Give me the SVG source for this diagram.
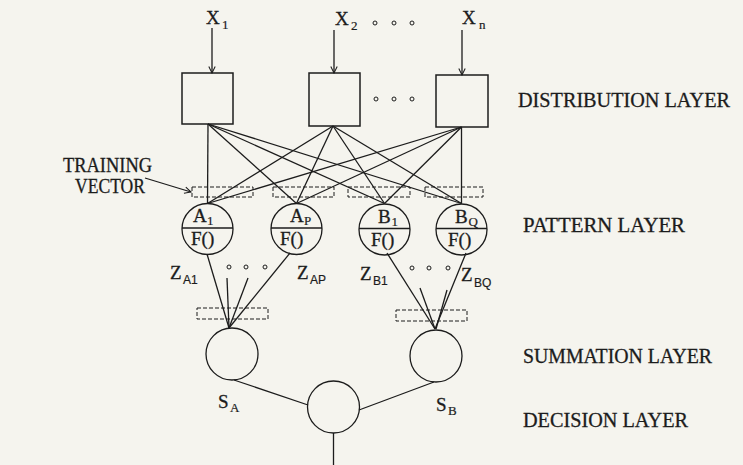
<svg xmlns="http://www.w3.org/2000/svg" width="743" height="465" viewBox="0 0 743 465">
<defs>
<style>
.bg{fill:#f5f4ee}
.ln{stroke:#1c1c1c;stroke-width:1.3;fill:none}
.box{stroke:#1c1c1c;stroke-width:1.5;fill:none}
.dash{stroke:#1c1c1c;stroke-width:1;fill:none;stroke-dasharray:4 2}
.dot{stroke:#1c1c1c;stroke-width:1;fill:none}
.t{font-family:"Liberation Serif","DejaVu Serif",serif;font-size:19px;fill:#1c1c1c;stroke:#1c1c1c;stroke-width:0.3}
.big{font-family:"Liberation Serif","DejaVu Serif",serif;font-size:20px;fill:#1c1c1c;stroke:#1c1c1c;stroke-width:0.3}
.sub{font-family:"Liberation Serif","DejaVu Serif",serif;font-size:13px;fill:#1c1c1c;stroke:#1c1c1c;stroke-width:0.2}
.subs{font-family:"Liberation Sans","DejaVu Sans",sans-serif;font-size:12px;fill:#1c1c1c;stroke:#1c1c1c;stroke-width:0.2}
</style>
<marker id="arr" viewBox="0 0 10 10" refX="9" refY="5" markerWidth="8" markerHeight="8" orient="auto" markerUnits="userSpaceOnUse">
<path d="M1,1 L9,5 L1,9" fill="none" stroke="#1c1c1c" stroke-width="1.3"/>
</marker>
</defs>
<rect class="bg" x="0" y="0" width="743" height="465"/>

<g id="connectors">
<!-- inputs -->
<line class="ln" x1="212" y1="28" x2="212" y2="73" marker-end="url(#arr)"/>
<line class="ln" x1="334" y1="30" x2="334" y2="73" marker-end="url(#arr)"/>
<line class="ln" x1="462" y1="30" x2="462" y2="75" marker-end="url(#arr)"/>
<!-- distribution to pattern -->
<line class="ln" x1="208" y1="124" x2="207.5" y2="203.5"/>
<line class="ln" x1="208" y1="124" x2="296.5" y2="203.5"/>
<line class="ln" x1="208" y1="124" x2="384.5" y2="203.5"/>
<line class="ln" x1="208" y1="124" x2="461.5" y2="203.5"/>
<line class="ln" x1="333" y1="126" x2="207.5" y2="203.5"/>
<line class="ln" x1="333" y1="126" x2="296.5" y2="203.5"/>
<line class="ln" x1="333" y1="126" x2="384.5" y2="203.5"/>
<line class="ln" x1="333" y1="126" x2="461.5" y2="203.5"/>
<line class="ln" x1="461.5" y1="127" x2="207.5" y2="203.5"/>
<line class="ln" x1="461.5" y1="127" x2="296.5" y2="203.5"/>
<line class="ln" x1="461.5" y1="127" x2="384.5" y2="203.5"/>
<line class="ln" x1="461.5" y1="127" x2="461.5" y2="203.5"/>
<!-- training vector arrow -->
<line class="ln" x1="145" y1="178" x2="191" y2="192" marker-end="url(#arr)"/>
<!-- pattern to summation -->
<line class="ln" x1="207" y1="254" x2="229" y2="328"/>
<line class="ln" x1="227" y1="278" x2="229" y2="328"/>
<line class="ln" x1="248" y1="278" x2="229" y2="328"/>
<line class="ln" x1="290" y1="253" x2="229" y2="328"/>
<line class="ln" x1="387" y1="253" x2="435" y2="329"/>
<line class="ln" x1="420" y1="288" x2="435" y2="329"/>
<line class="ln" x1="447" y1="290" x2="436" y2="329"/>
<line class="ln" x1="466" y1="253" x2="435" y2="329"/>
<!-- summation to decision -->
<line class="ln" x1="234" y1="380" x2="308" y2="405"/>
<line class="ln" x1="434" y1="382" x2="359" y2="410"/>
<line class="ln" x1="333.5" y1="433" x2="333.5" y2="465"/>
</g>

<g id="inputs">
<text class="t" x="206" y="24">X</text><text class="sub" x="222" y="29">1</text>
<text class="t" x="335" y="25">X</text><text class="sub" x="351" y="30">2</text>
<text class="t" x="462" y="24">X</text><text class="sub" x="479" y="29">n</text>
<circle class="dot" cx="375" cy="23" r="2"/><circle class="dot" cx="394" cy="23" r="2"/><circle class="dot" cx="412" cy="23" r="2"/>
</g>

<g id="dist1"><rect class="box" x="182" y="73" width="51" height="51"/></g>
<g id="dist2"><rect class="box" x="309" y="73" width="51" height="53"/></g>
<g id="dist3"><rect class="box" x="436" y="75" width="52" height="52"/></g>
<g id="dist-dots"><circle class="dot" cx="376" cy="99" r="2"/><circle class="dot" cx="394" cy="99" r="2"/><circle class="dot" cx="412" cy="99" r="2"/></g>

<g id="training">
<text class="big" x="63" y="172" textLength="89" lengthAdjust="spacingAndGlyphs">TRAINING</text>
<text class="big" x="75" y="193" textLength="70" lengthAdjust="spacingAndGlyphs">VECTOR</text>
<rect class="dash" x="192" y="187" width="61" height="10"/>
<rect class="dash" x="273" y="187" width="61" height="10"/>
<rect class="dash" x="348" y="187" width="62" height="10"/>
<rect class="dash" x="425" y="187" width="58" height="10"/>
</g>

<g id="nodeA1">
<circle class="ln" cx="207.5" cy="229" r="25.5"/>
<line class="ln" x1="182" y1="228" x2="233" y2="228"/>
<text class="t" x="193" y="222">A</text><text class="sub" x="207" y="225">1</text>
<text class="t" x="191" y="245">F()</text>
</g>
<g id="nodeAP">
<circle class="ln" cx="296.5" cy="229" r="25.5"/>
<line class="ln" x1="271" y1="228" x2="322" y2="228"/>
<text class="t" x="290" y="222">A</text><text class="sub" x="304" y="225">P</text>
<text class="t" x="280" y="245">F()</text>
</g>
<g id="nodeB1">
<circle class="ln" cx="384.5" cy="229.5" r="25.5"/>
<line class="ln" x1="359" y1="228.5" x2="410" y2="228.5"/>
<text class="t" x="378" y="222.5">B</text><text class="sub" x="391.5" y="225.5">1</text>
<text class="t" x="371" y="245.5">F()</text>
</g>
<g id="nodeBQ">
<circle class="ln" cx="461.5" cy="229.5" r="25.5"/>
<line class="ln" x1="436" y1="228.5" x2="487" y2="228.5"/>
<text class="t" x="455" y="223">B</text><text class="sub" x="468.5" y="226">Q</text>
<text class="t" x="448" y="245.5">F()</text>
</g>

<g id="zlabels">
<text class="t" x="170" y="279">Z</text><text class="subs" x="183" y="284">A1</text>
<text class="t" x="297" y="279">Z</text><text class="subs" x="310" y="284">AP</text>
<text class="t" x="360" y="280">Z</text><text class="subs" x="373" y="285">B1</text>
<text class="t" x="461" y="281">Z</text><text class="subs" x="474" y="287">BQ</text>
<circle class="dot" cx="229" cy="267" r="2"/><circle class="dot" cx="246" cy="267" r="2"/><circle class="dot" cx="265" cy="267" r="2"/>
<circle class="dot" cx="412" cy="268" r="2"/><circle class="dot" cx="429" cy="268" r="2"/><circle class="dot" cx="448" cy="268" r="2"/>
<rect class="dash" x="197" y="308" width="71" height="11"/>
<rect class="dash" x="396" y="310" width="71" height="11"/>
</g>

<g id="sumA">
<circle class="ln" cx="232" cy="354" r="26"/>
<text class="t" x="218" y="408">S</text><text class="sub" x="230" y="412">A</text>
</g>
<g id="sumB">
<circle class="ln" cx="436" cy="356" r="26"/>
<text class="t" x="436" y="411">S</text><text class="sub" x="448" y="415">B</text>
</g>
<g id="decision">
<circle class="ln" cx="333.5" cy="407" r="26"/>
</g>

<g id="layers">
<text class="big" x="518" y="107" textLength="212" lengthAdjust="spacingAndGlyphs">DISTRIBUTION  LAYER</text>
<text class="big" x="523" y="232" textLength="162" lengthAdjust="spacingAndGlyphs">PATTERN  LAYER</text>
<text class="big" x="523" y="363" textLength="189" lengthAdjust="spacingAndGlyphs">SUMMATION  LAYER</text>
<text class="big" x="523" y="427" textLength="165" lengthAdjust="spacingAndGlyphs">DECISION  LAYER</text>
</g>
</svg>
